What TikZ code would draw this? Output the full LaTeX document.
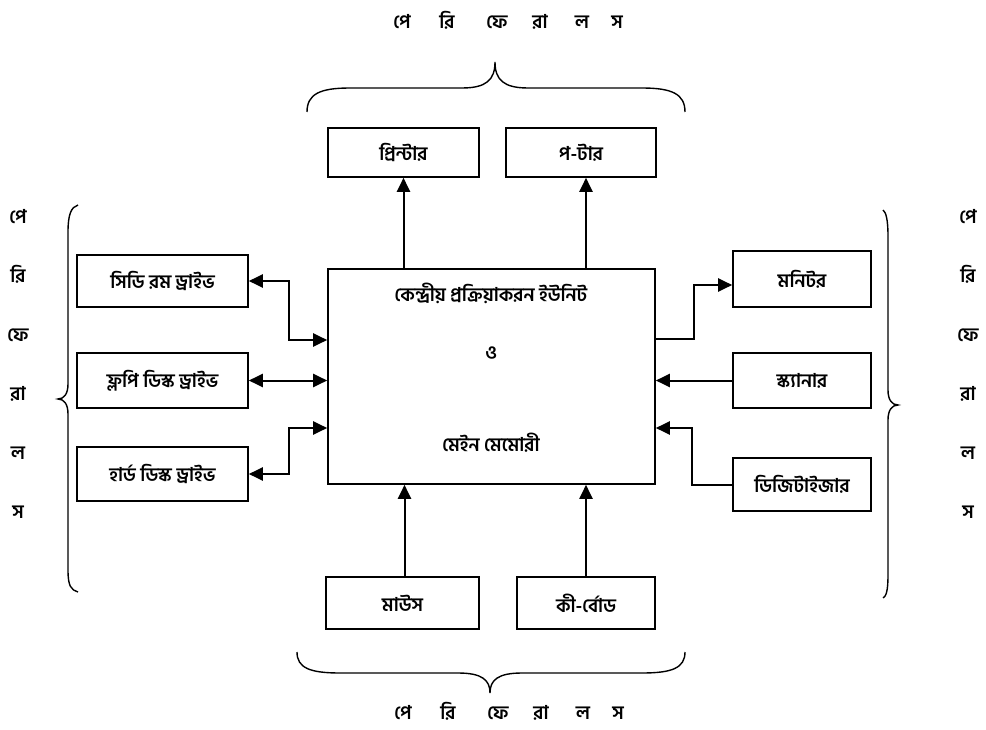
\documentclass[tikz,border=0pt]{standalone}
\usepackage{fontspec}
\setmainfont{Hind Siliguri}[Script=Bengali]
\usepackage{tikz}
\usetikzlibrary{arrows.meta,calc,positioning}
\tikzset{
  unit/.style={
    draw, line width=1.6pt, fill=white,
    minimum width=#1, inner sep=0pt,
    align=center, font=\fontsize{19}{22}\selectfont\bfseries,
  },
  unit/.default=150,
  arr/.style={-{Triangle[length=14pt,width=13pt]}, line width=2pt},
  dbl/.style={{Triangle[length=14pt,width=13pt]}-{Triangle[length=14pt,width=13pt]}, line width=2pt},
  brace/.style={line width=1.4pt},
  lbl/.style={font=\fontsize{19}{22}\selectfont\bfseries, inner sep=0pt},
  vlbl/.style={font=\fontsize{19}{59}\selectfont\bfseries, align=center, inner sep=0pt},
}
\newcommand{\perirow}{%
  \makebox[44pt]{পে}\makebox[46pt]{রি}\makebox[54pt]{ফে}%
  \makebox[32pt]{রা}\makebox[52pt]{ল}\makebox[18pt]{স}}

\begin{document}
\begin{tikzpicture}[x=1pt,y=-1pt]
  \useasboundingbox (0,0) rectangle (986,730);

  % central unit
  \node[unit=327, minimum height=215] (cpu) at (491.5,376.5) {};
  \node[lbl] (cpu1) at (491,293) {কেন্দ্রীয় প্রক্রিয়াকরন ইউনিট};
  \node[lbl] (cpu2) at (491,353) {ও};
  \node[lbl] (cpu3) at (491,443) {মেইন মেমোরী};

  % output devices on top
  \node[unit=151, minimum height=49] (printer) at (403.5,152.5) {প্রিন্টার};
  \node[unit=150, minimum height=49] (plotter) at (581,152.5) {প-টার};
  \draw[arr] (printer.south |- cpu.north) -- (printer.south);
  \draw[arr] ([xshift=5]plotter.south |- cpu.north) -- ([xshift=5]plotter.south);

  % storage drives, left
  \node[unit=171, minimum height=52] (cdrom) at (162.5,281) {সিডি রম ড্রাইভ};
  \node[unit=171, minimum height=55] (floppy) at (162.5,380.5) {ফ্লপি ডিস্ক ড্রাইভ};
  \node[unit=171, minimum height=54] (hdd) at (162.5,474) {হার্ড ডিস্ক ড্রাইভ};
  \draw[dbl] (cdrom.east) -- ++(40,0) |- ([yshift=36.5]cpu.west);
  \draw[dbl] (floppy.east) -- (floppy.east -| cpu.west);
  \draw[dbl] (hdd.east) -- ++(40,0) |- ([yshift=-51.5]cpu.west);

  % display and scanners, right
  \node[unit=138, minimum height=56] (monitor) at (802,279) {মনিটর};
  \node[unit=138, minimum height=55] (scanner) at (802,380.5) {স্ক্যানার};
  \node[unit=138, minimum height=53] (digitizer) at (802,484.5) {ডিজিটাইজার};
  \draw[arr] ([yshift=37.5]cpu.east) -- ++(38,0) |- ([yshift=-6]monitor.west);
  \draw[arr] (scanner.west) -- (scanner.west -| cpu.east);
  \draw[arr] (digitizer.west) -- ++(-40,0) |- ([yshift=-51.5]cpu.east);

  % input devices, bottom
  \node[unit=153, minimum height=52] (mouse) at (402.5,603) {মাউস};
  \node[unit=138, minimum height=52] (keyboard) at (586,603) {কী-র্বোড};
  \draw[arr] ([xshift=2]mouse.north) -- ([xshift=2]mouse.north |- cpu.south);
  \draw[arr] (keyboard.north) -- (keyboard.north |- cpu.south);

  % braces
  \draw[brace] (307,112) .. controls (307,94) and (320,88) .. (350,88) -- (462,88)
    .. controls (486,88) and (495,80) .. (495,62)
    .. controls (495,80) and (504,88) .. (528,88) -- (642,88)
    .. controls (672,88) and (685,94) .. (685,112);
  \draw[brace] (297,652) .. controls (297,668) and (310,673) .. (340,673) -- (458,673)
    .. controls (482,673) and (490,680) .. (490,693)
    .. controls (490,680) and (498,673) .. (522,673) -- (642,673)
    .. controls (672,673) and (685,668) .. (685,652);
  \draw[brace] (78,205) .. controls (71,207) and (68,215) .. (68,232) -- (68,384)
    .. controls (68,394) and (64,399) .. (58,399)
    .. controls (64,399) and (68,404) .. (68,414) -- (68,570)
    .. controls (68,586) and (71,590) .. (78,592);
  \draw[brace] (883,210) .. controls (886,212) and (888,220) .. (888,236) -- (888,390)
    .. controls (888,400) and (892,405) .. (898,405)
    .. controls (892,405) and (888,410) .. (888,420) -- (888,575)
    .. controls (888,592) and (886,596) .. (883,598);

  % peripheral labels
  \node[lbl] (ptop) at (503,20) {\perirow};
  \node[lbl] (pbot) at (504,711) {\perirow};
  \node[vlbl] (pleft) at (18,364) {পে\\রি\\ফে\\রা\\ল\\স};
  \node[vlbl] (pright) at (968,364) {পে\\রি\\ফে\\রা\\ল\\স};
\end{tikzpicture}
\end{document}
